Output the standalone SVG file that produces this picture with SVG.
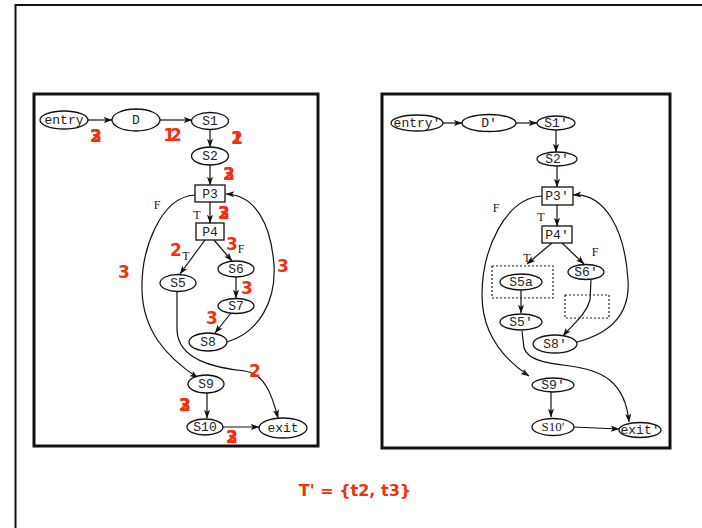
<svg xmlns="http://www.w3.org/2000/svg" width="702" height="528" viewBox="0 0 702 528">
<defs>
<marker id="ah" viewBox="0 0 10 8" refX="9.5" refY="4" markerWidth="9" markerHeight="7" markerUnits="userSpaceOnUse" orient="auto">
<path d="M0,0.5 L10,4 L0,7.5 L2.5,4 Z" fill="#111"/>
</marker>
<style>
.nd{fill:#fff;stroke:#111;stroke-width:1.3}
.lb{font-family:"Liberation Mono",monospace;font-size:13px;fill:#222;text-anchor:middle}
.lt{font-family:"Liberation Serif",serif;font-size:12px;fill:#222;text-anchor:middle}
.ed{fill:none;stroke:#111;stroke-width:1.2}
.rd{font-family:"DejaVu Sans",sans-serif;font-weight:bold;font-size:17px;fill:#f2300f;text-anchor:middle}
.fr{fill:#fff;stroke:#111;stroke-width:3}
.dt{fill:none;stroke:#222;stroke-width:1.2;stroke-dasharray:2,2}
</style>
</defs>
<rect width="702" height="528" fill="#fff"/>
<path d="M15.5,528 V5 H702" fill="none" stroke="#111" stroke-width="2"/>
<rect class="fr" x="34" y="94" width="284" height="352"/>
<rect class="fr" x="382" y="94" width="288" height="354"/>

<g id="edges-left">
<path class="ed" d="M88,120 L112,120" marker-end="url(#ah)"/>
<path class="ed" d="M160,120 L192,120" marker-end="url(#ah)"/>
<path class="ed" d="M210,130 L210,147" marker-end="url(#ah)"/>
<path class="ed" d="M210,165 L210,185" marker-end="url(#ah)"/>
<path class="ed" d="M210,202 L210,223" marker-end="url(#ah)"/>
<path class="ed" d="M205,240 L180,274" marker-end="url(#ah)"/>
<path class="ed" d="M214,240 L232,261" marker-end="url(#ah)"/>
<path class="ed" d="M236,277 L236,298" marker-end="url(#ah)"/>
<path class="ed" d="M231,313 L215,333" marker-end="url(#ah)"/>
<path class="ed" d="M227,342 C260,332 276,300 274,265 C271,225 256,195 226,194" marker-end="url(#ah)"/>
<path class="ed" d="M195,195 C160,197 141,250 142,290 C143,330 165,356 198,378" marker-end="url(#ah)"/>
<path class="ed" d="M177,291 L177,330 C178,360 215,368 245,371 C265,374 272,395 278,418" marker-end="url(#ah)"/>
<path class="ed" d="M207,393 L207,418" marker-end="url(#ah)"/>
<path class="ed" d="M223,427 L259,427" marker-end="url(#ah)"/>
</g>

<g id="n-entry"><ellipse class="nd" cx="64" cy="120" rx="24" ry="9"/><text class="lb" x="64" y="124">entry</text></g>
<g id="n-D"><ellipse class="nd" cx="136" cy="120" rx="24" ry="11"/><text class="lb" x="136" y="124">D</text></g>
<g id="n-S1"><ellipse class="nd" cx="210" cy="121" rx="18.5" ry="8.5"/><text class="lb" x="210" y="125">S1</text></g>
<g id="n-S2"><ellipse class="nd" cx="210" cy="156" rx="18.5" ry="9"/><text class="lb" x="210" y="160">S2</text></g>
<g id="n-P3"><rect class="nd" x="195" y="185" width="30" height="17"/><text class="lb" x="210" y="198">P3</text></g>
<g id="n-P4"><rect class="nd" x="196" y="223" width="28" height="17"/><text class="lb" x="210" y="236">P4</text></g>
<g id="n-S5"><ellipse class="nd" cx="178" cy="283" rx="18" ry="8.5"/><text class="lb" x="178" y="287">S5</text></g>
<g id="n-S6"><ellipse class="nd" cx="236" cy="269" rx="18" ry="8"/><text class="lb" x="236" y="273">S6</text></g>
<g id="n-S7"><ellipse class="nd" cx="236" cy="306" rx="18" ry="7.5"/><text class="lb" x="236" y="310">S7</text></g>
<g id="n-S8"><ellipse class="nd" cx="208" cy="342" rx="19" ry="9"/><text class="lb" x="208" y="346">S8</text></g>
<g id="n-S9"><ellipse class="nd" cx="206" cy="384" rx="18" ry="9"/><text class="lb" x="206" y="388">S9</text></g>
<g id="n-S10"><ellipse class="nd" cx="205" cy="427" rx="18" ry="8"/><text class="lb" x="205" y="431">S10</text></g>
<g id="n-exit"><ellipse class="nd" cx="283" cy="428" rx="24" ry="10"/><text class="lb" x="283" y="432">exit</text></g>

<g id="labels-left">
<text class="lt" x="157" y="209">F</text>
<text class="lt" x="197" y="219">T</text>
<text class="lt" x="186" y="260">T</text>
<text class="lt" x="241" y="253">F</text>
</g>

<g id="red-left">
<text class="rd" x="96" y="142">2</text><text class="rd" x="96" y="142">3</text>
<text class="rd" x="170" y="141" letter-spacing="-5">12</text>
<text class="rd" x="237" y="144">1</text><text class="rd" x="237" y="144">2</text>
<text class="rd" x="229" y="180">2</text><text class="rd" x="229" y="180">3</text>
<text class="rd" x="224" y="219">2</text><text class="rd" x="224" y="219">3</text>
<text class="rd" x="176" y="256">2</text>
<text class="rd" x="232" y="250">3</text>
<text class="rd" x="124" y="278">3</text>
<text class="rd" x="283" y="272">3</text>
<text class="rd" x="247" y="294">3</text>
<text class="rd" x="212" y="324">3</text>
<text class="rd" x="255" y="377">2</text>
<text class="rd" x="185" y="411">2</text><text class="rd" x="185" y="411">3</text>
<text class="rd" x="232" y="443">2</text><text class="rd" x="232" y="443">3</text>
</g>

<g id="edges-right">
<path class="ed" d="M443,123 L462,123" marker-end="url(#ah)"/>
<path class="ed" d="M515,123 L537,123" marker-end="url(#ah)"/>
<path class="ed" d="M556,130 L556,152" marker-end="url(#ah)"/>
<path class="ed" d="M557,166 L557,187" marker-end="url(#ah)"/>
<path class="ed" d="M557,205 L557,226" marker-end="url(#ah)"/>
<path class="ed" d="M552,243 L527,264" marker-end="url(#ah)"/>
<path class="ed" d="M562,243 L584,264" marker-end="url(#ah)"/>
<path class="ed" d="M521,290 L521,313" marker-end="url(#ah)"/>
<path class="ed" d="M591,280 L590,300 C586,315 572,325 563,336" marker-end="url(#ah)"/>
<path class="ed" d="M577,342 C615,332 630,310 628,280 C625,230 605,193 573,195" marker-end="url(#ah)"/>
<path class="ed" d="M542,196 C505,198 482,250 482,295 C482,335 505,360 529,376" marker-end="url(#ah)"/>
<path class="ed" d="M522,331 L524,348 C528,360 545,363 570,366 C600,370 625,380 629,422" marker-end="url(#ah)"/>
<path class="ed" d="M551,392 L551,417" marker-end="url(#ah)"/>
<path class="ed" d="M573,427 L619,429" marker-end="url(#ah)"/>
</g>

<g id="dotted">
<rect class="dt" x="492" y="266" width="61" height="32"/>
<rect class="dt" x="565" y="295" width="44" height="23"/>
</g>

<g id="n-entry2"><ellipse class="nd" cx="417" cy="123" rx="26" ry="8"/><text class="lb" x="417" y="127">entry′</text></g>
<g id="n-D2"><ellipse class="nd" cx="489" cy="123" rx="27" ry="8.5"/><text class="lb" x="489" y="127">D′</text></g>
<g id="n-S1b"><ellipse class="nd" cx="556" cy="123" rx="19" ry="7"/><text class="lb" x="556" y="127">S1′</text></g>
<g id="n-S2b"><ellipse class="nd" cx="557" cy="159" rx="20" ry="7"/><text class="lb" x="557" y="163">S2′</text></g>
<g id="n-P3b"><rect class="nd" x="542" y="187" width="31" height="18"/><text class="lb" x="557" y="200">P3′</text></g>
<g id="n-P4b"><rect class="nd" x="542" y="226" width="30" height="17"/><text class="lb" x="557" y="239">P4′</text></g>
<g id="n-S5a"><ellipse class="nd" cx="521" cy="282" rx="21" ry="8"/><text class="lb" x="521" y="286">S5a</text></g>
<g id="n-S6b"><ellipse class="nd" cx="586" cy="272" rx="18" ry="7.5"/><text class="lb" x="586" y="276">S6′</text></g>
<g id="n-S5b"><ellipse class="nd" cx="521" cy="322" rx="21" ry="8"/><text class="lb" x="521" y="326">S5′</text></g>
<g id="n-S8b"><ellipse class="nd" cx="555" cy="344" rx="22" ry="9"/><text class="lb" x="555" y="348">S8′</text></g>
<g id="n-S9b"><ellipse class="nd" cx="553" cy="385" rx="21" ry="7"/><text class="lb" x="553" y="389">S9′</text></g>
<g id="n-S10b"><ellipse class="nd" cx="553" cy="427" rx="21" ry="8.5"/><text class="lt" x="553" y="431" style="font-size:13px">S10′</text></g>
<g id="n-exit2"><ellipse class="nd" cx="640" cy="430" rx="21" ry="7.5"/><text class="lb" x="640" y="434">exit′</text></g>

<g id="labels-right">
<text class="lt" x="496" y="212">F</text>
<text class="lt" x="541" y="221">T</text>
<text class="lt" x="527" y="262">T</text>
<text class="lt" x="595" y="256">F</text>
</g>

<text class="rd" x="355" y="496" style="font-size:16px">T' = {t2, t3}</text>
</svg>
